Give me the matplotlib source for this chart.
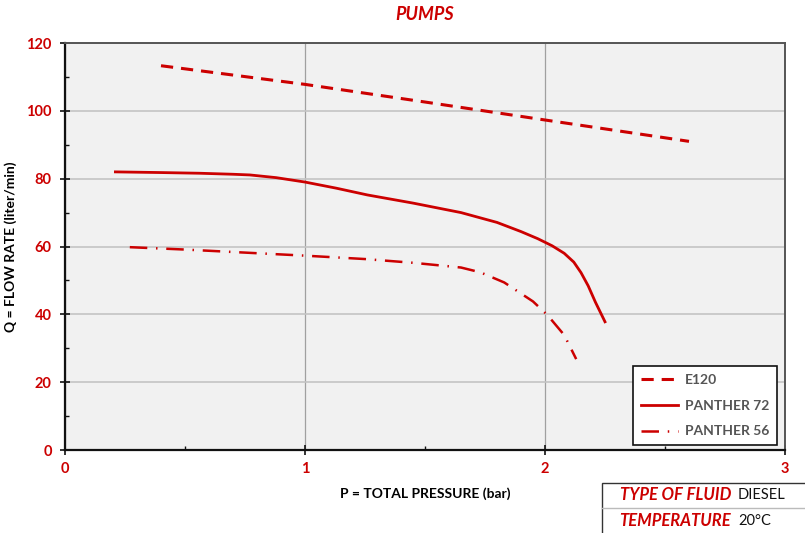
import matplotlib
matplotlib.use("Agg")
from matplotlib import pyplot as plt
from matplotlib.patches import Rectangle
from matplotlib.lines import Line2D
from matplotlib.ticker import MultipleLocator

plt.rcParams['font.family'] = ['Lato', 'DejaVu Sans']

RED = "#cc0000"

# curves
e120_p = [0.4, 1.0, 1.5, 2.0, 2.6]
e120_q = [113.3, 107.8, 102.6, 97.3, 91.0]

p72_p = [0.21, 0.4, 0.56, 0.7, 0.77, 0.88, 1.0, 1.13, 1.26, 1.45, 1.65, 1.8, 1.9, 1.97, 2.03,
         2.08, 2.12, 2.15, 2.18, 2.21, 2.25]
p72_q = [82.0, 81.8, 81.6, 81.3, 81.1, 80.3, 79.0, 77.2, 75.2, 72.8, 70.0, 67.1, 64.4, 62.3, 60.2,
         58.0, 55.4, 52.3, 48.4, 43.6, 37.8]

p56_p = [0.27, 0.5, 0.75, 1.0, 1.25, 1.45, 1.58, 1.65, 1.73, 1.83, 1.95, 2.01, 2.08, 2.13]
p56_q = [59.8, 59.1, 58.2, 57.3, 56.3, 55.2, 54.3, 53.8, 52.4, 49.4, 43.8, 39.8, 33.9, 26.8]

series_names = ["E120", "PANTHER 72", "PANTHER 56"]
info_keys = ["TYPE OF FLUID", "TEMPERATURE"]
info_vals = ["DIESEL", "20\u00b0C"]

fig = plt.figure(figsize=(8.05, 5.33), dpi=100)
ax = fig.add_axes([65/805, 83/533, 720/805, 407/533])
ax.set_facecolor("#f1f1f1")

ax.plot(e120_p, e120_q, color=RED, lw=2.2, linestyle=(0, (4, 2.6)))
ax.plot(p72_p, p72_q, color=RED, lw=2.0)
ax.plot(p56_p, p56_q, color=RED, lw=1.8, linestyle=(0, (7, 3.5, 0.6, 3.5)))

ax.set_xlim(0, 3)
ax.set_ylim(0, 120)
ax.xaxis.set_major_locator(MultipleLocator(1))
ax.xaxis.set_minor_locator(MultipleLocator(0.5))
ax.yaxis.set_major_locator(MultipleLocator(20))
ax.yaxis.set_minor_locator(MultipleLocator(10))

ax.grid(True, which="major", axis="x", color="#a0a0a0", lw=0.9)
ax.grid(True, which="major", axis="y", color="#c4c4c4", lw=1.2)
ax.set_axisbelow(True)

for s in ["left", "bottom"]:
    ax.spines[s].set_color("#111111")
    ax.spines[s].set_linewidth(1.6)
for s in ["top", "right"]:
    ax.spines[s].set_color("#555555")
    ax.spines[s].set_linewidth(1.4)

ax.tick_params(which="major", direction="inout", length=7, width=1.2, color="#111111",
               labelcolor=RED, labelsize=10.5)
ax.tick_params(which="minor", direction="in", length=3, width=1.0, color="#111111")
ax.tick_params(axis="y", which="major", pad=6)
ax.tick_params(axis="x", which="major", pad=5)
for lab in ax.get_xticklabels() + ax.get_yticklabels():
    lab.set_fontweight("bold")

ax.set_xlabel("P = TOTAL PRESSURE (bar)", fontsize=10, fontweight="bold", labelpad=8)
ax.set_ylabel("Q = FLOW RATE (liter/min)", fontsize=10, fontweight="bold", labelpad=7)

handles = [
    Line2D([], [], color=RED, lw=2.2, linestyle=(0, (4, 2.6))),
    Line2D([], [], color=RED, lw=2.0),
    Line2D([], [], color=RED, lw=1.8, linestyle=(0, (7, 3.5, 0.6, 3.5))),
]
leg = ax.legend(handles, series_names, loc="lower right", bbox_to_anchor=(0.989, 0.012),
                borderaxespad=0, fancybox=False, framealpha=1, edgecolor="#111111",
                fontsize=10, handlelength=2.7, handletextpad=0.5, labelspacing=1.0,
                borderpad=0.55)
leg.get_frame().set_linewidth(1.2)
for t in leg.get_texts():
    t.set_color("#555555")
    t.set_fontweight("bold")

fig.text(425/805, 1 - 15/533, "PUMPS", color=RED, fontsize=13, fontweight="bold",
         fontstyle="italic", ha="center", va="center")

# info box at the bottom right
box = Rectangle((602/805, -0.05), 0.3, (533 - 483)/533 + 0.05, transform=fig.transFigure,
                facecolor="white", edgecolor="#333333", lw=1.0, clip_on=False)
fig.patches.append(box)
fig.add_artist(Line2D([602/805, 1.0], [1 - 508/533, 1 - 508/533], transform=fig.transFigure,
                      color="#bbbbbb", lw=1.0))
for i, (k, v) in enumerate(zip(info_keys, info_vals)):
    yy = 1 - (495 + 26*i)/533
    fig.text(731/805, yy, k, color=RED, fontsize=12, fontweight="bold", fontstyle="italic",
             ha="right", va="center")
    fig.text(738/805, yy, v, color="#111111", fontsize=10.5, ha="left", va="center")

fig.savefig("out.png", dpi=100)
